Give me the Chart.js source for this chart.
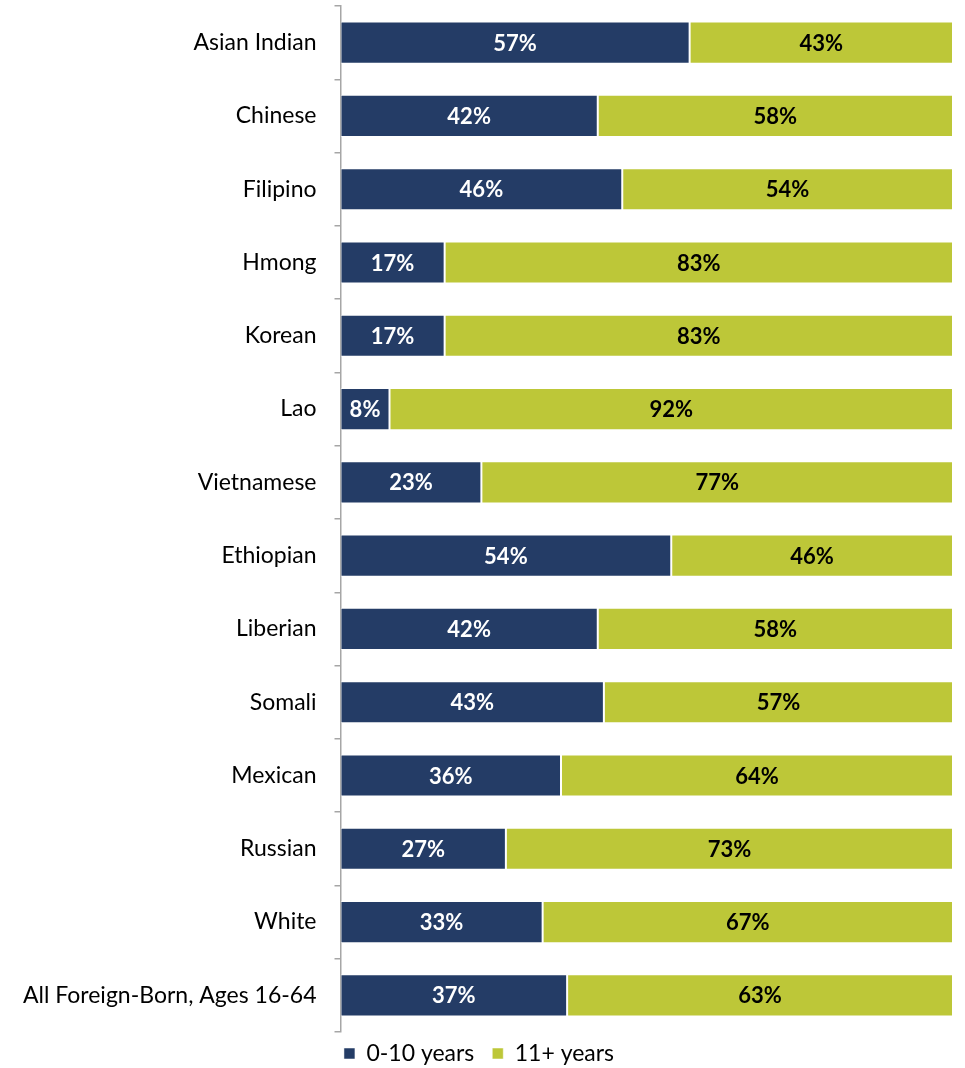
<!DOCTYPE html>
<html>
<head>
<meta charset="utf-8">
<script src="https://cdn.jsdelivr.net/npm/chart.js@4/dist/chart.umd.min.js"></script>
<style>
  html, body { margin: 0; padding: 0; background: #fff; }
  #wrap { width: 965px; height: 1068px; position: relative; }
</style>
</head>
<body>
<div id="wrap"><canvas id="c"></canvas></div>
<script>
const categories = [
  'Asian Indian', 'Chinese', 'Filipino', 'Hmong', 'Korean', 'Lao', 'Vietnamese',
  'Ethiopian', 'Liberian', 'Somali', 'Mexican', 'Russian', 'White',
  'All Foreign-Born, Ages 16-64'
];
const recent = [57, 42, 46, 17, 17, 8, 23, 54, 42, 43, 36, 27, 33, 37];
const longer = [43, 58, 54, 83, 83, 92, 77, 46, 58, 57, 64, 73, 67, 63];
const seriesNames = ['0-10 years', '11+ years'];

const NAVY = '#243c66';
const GREEN = '#bdc738';
const FONT = 'Lato, "Open Sans", "DejaVu Sans", sans-serif';

// Writes each segment's percentage in its centre
const segmentLabels = {
  id: 'segmentLabels',
  afterDatasetsDraw(chart) {
    const ctx = chart.ctx;
    ctx.save();
    ctx.font = 'bold 22px ' + FONT;
    ctx.textAlign = 'center';
    ctx.textBaseline = 'middle';
    chart.data.datasets.forEach((ds, di) => {
      const meta = chart.getDatasetMeta(di);
      ctx.fillStyle = di === 0 ? '#ffffff' : '#000000';
      meta.data.forEach((bar, i) => {
        const { x, base, y } = bar.getProps(['x', 'base', 'y'], true);
        ctx.fillText(ds.data[i] + '%', (x + base) / 2, y + 1);
      });
    });
    ctx.restore();
  }
};

// Lifts the legend row a little so wide item spacing does not push it down,
// and lets it use the full strip down to the canvas edge
const legendLift = {
  id: 'legendLift',
  afterLayout(chart) {
    if (chart.legend) {
      chart.legend.top -= 8;
      chart.legend.bottom += 4;
    }
  }
};

new Chart(document.getElementById('c'), {
  type: 'bar',
  data: {
    labels: categories,
    datasets: [
      { label: seriesNames[0], data: recent, backgroundColor: NAVY,
        borderColor: 'rgba(255,255,255,0.5)', borderWidth: 1, borderSkipped: false },
      { label: seriesNames[1], data: longer, backgroundColor: GREEN,
        borderColor: 'rgba(255,255,255,0.5)', borderWidth: 1, borderSkipped: false }
    ]
  },
  options: {
    indexAxis: 'y',
    responsive: true,
    maintainAspectRatio: false,
    animation: false,
    layout: { padding: { top: 6, right: 12, left: 5, bottom: 0 } },
    datasets: { bar: { barPercentage: 1, categoryPercentage: 0.575 } },
    scales: {
      x: {
        stacked: true, min: 0, max: 100, display: false
      },
      y: {
        stacked: true,
        // category bands fill the full axis height, no extra room for edge labels
        afterFit(scale) { scale.paddingTop = 0; scale.paddingBottom = 0; },
        grid: { display: true, drawOnChartArea: false, offset: true,
                tickLength: 6, color: '#a6a6a6', lineWidth: 1.5 },
        border: { display: true, color: '#a6a6a6', width: 1.5 },
        ticks: { color: '#000', font: { family: FONT, size: 23 }, padding: 18 }
      }
    },
    plugins: {
      legend: {
        position: 'bottom',
        maxHeight: 36,
        labels: {
          color: '#000',
          font: { family: FONT, size: 23 },
          boxWidth: 11, boxHeight: 11, padding: 18
        }
      },
      tooltip: { enabled: false }
    }
  },
  plugins: [segmentLabels, legendLift]
});
</script>
</body>
</html>
